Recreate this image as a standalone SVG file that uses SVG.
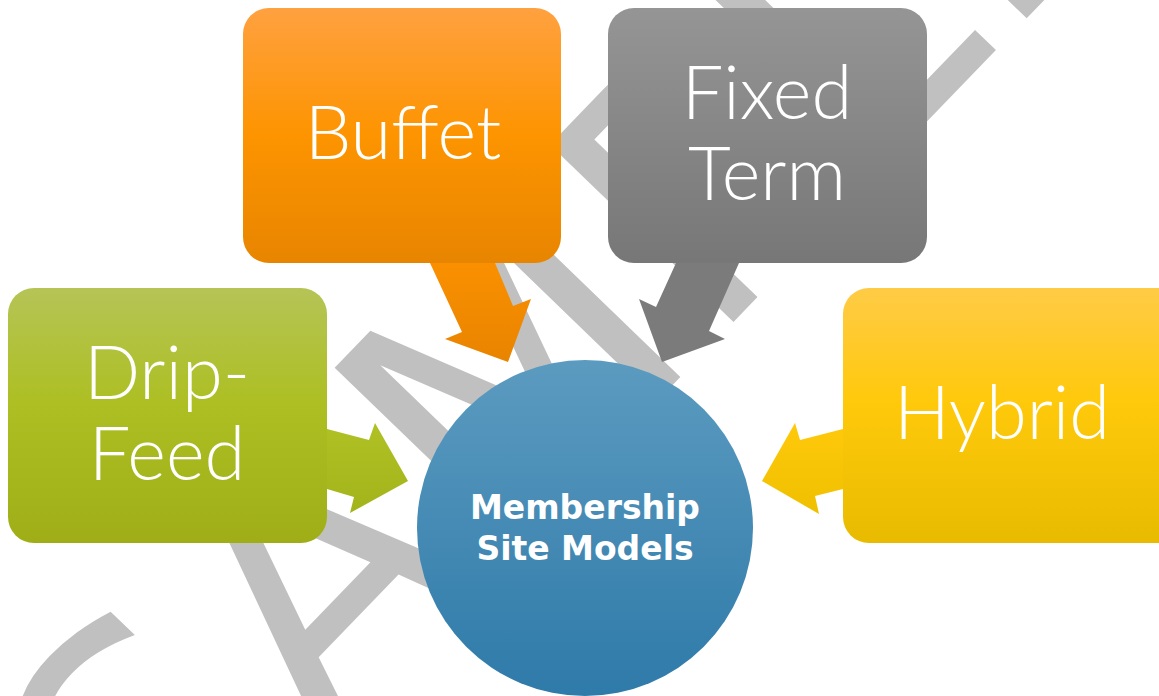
<svg xmlns="http://www.w3.org/2000/svg" width="1159" height="696" viewBox="0 0 1159 696">
<defs>
<style>
.lbl{font-family:Lato,"Liberation Sans",sans-serif;font-weight:300;font-size:74px;fill:#ffffff;text-anchor:middle}
.ctr{font-family:"DejaVu Sans","Liberation Sans",sans-serif;font-weight:bold;font-size:33px;fill:#ffffff;text-anchor:middle}
.wm{font-family:"DejaVu Sans",sans-serif;font-size:350px;fill:#c0c0c0;text-anchor:middle;letter-spacing:8px}
</style>
<linearGradient id="gOr" x1="0" y1="0" x2="0" y2="1"><stop offset="0" stop-color="#ffa140"/><stop offset="0.5" stop-color="#fd9400"/><stop offset="1" stop-color="#e88500"/></linearGradient>
<linearGradient id="gGr" x1="0" y1="0" x2="0" y2="1"><stop offset="0" stop-color="#959595"/><stop offset="1" stop-color="#777777"/></linearGradient>
<linearGradient id="gGn" x1="0" y1="0" x2="0" y2="1"><stop offset="0" stop-color="#b5c456"/><stop offset="0.45" stop-color="#adbf23"/><stop offset="1" stop-color="#9fae17"/></linearGradient>
<linearGradient id="gYe" x1="0" y1="0" x2="0" y2="1"><stop offset="0" stop-color="#ffcb46"/><stop offset="0.45" stop-color="#ffc90b"/><stop offset="1" stop-color="#e8bb00"/></linearGradient>
<linearGradient id="gBl" x1="0" y1="0" x2="0" y2="1"><stop offset="0" stop-color="#5c9bc0"/><stop offset="1" stop-color="#2e7aa9"/></linearGradient>
<linearGradient id="aOr" x1="0" y1="0" x2="0" y2="1"><stop offset="0" stop-color="#fa9000"/><stop offset="1" stop-color="#e98400"/></linearGradient>
<linearGradient id="aGn" x1="0" y1="0" x2="0" y2="1"><stop offset="0" stop-color="#afc125"/><stop offset="1" stop-color="#a3b41a"/></linearGradient>
<linearGradient id="aYe" x1="0" y1="0" x2="0" y2="1"><stop offset="0" stop-color="#ffc90b"/><stop offset="1" stop-color="#efc000"/></linearGradient>
</defs>
<rect width="1159" height="696" fill="#ffffff"/>
<g id="watermark">
<text class="wm" transform="translate(660,398) rotate(-46)" x="0" y="0">SAMPLE</text>
</g>
<g id="connectors">
<polygon fill="url(#aOr)" points="430,263 495,263 513,306 531,299 508,362 445,339 462,332"/>
<polygon fill="#7b7b7b" points="676,263 739,263 709,331 725,339 662,362 639,299 656,307"/>
<polygon fill="url(#aGn)" points="327,429 369,440 375,423 408,481 350,513 354,497 327,489"/>
<polygon fill="url(#aYe)" points="843,429 800,440 795,423 762,481 819,514 815,496 843,489"/>
</g>
<g id="node-buffet">
<rect x="243" y="8" width="318" height="255" rx="26" fill="url(#gOr)"/>
<text class="lbl" x="403" y="159">Buffet</text>
</g>
<g id="node-fixed-term">
<rect x="608" y="8" width="319" height="255" rx="26" fill="url(#gGr)"/>
<text class="lbl" x="767" y="119">Fixed</text>
<text class="lbl" x="767" y="200">Term</text>
</g>
<g id="node-drip-feed">
<rect x="8" y="288" width="319" height="255" rx="26" fill="url(#gGn)"/>
<text class="lbl" x="167" y="399">Drip-</text>
<text class="lbl" x="167" y="480">Feed</text>
</g>
<g id="node-hybrid">
<rect x="843" y="288" width="340" height="255" rx="26" fill="url(#gYe)"/>
<text class="lbl" x="1002" y="439">Hybrid</text>
</g>
<g id="node-center">
<circle cx="585" cy="528" r="168" fill="url(#gBl)"/>
<text class="ctr" x="585" y="519">Membership</text>
<text class="ctr" x="585" y="560">Site Models</text>
</g>
</svg>
